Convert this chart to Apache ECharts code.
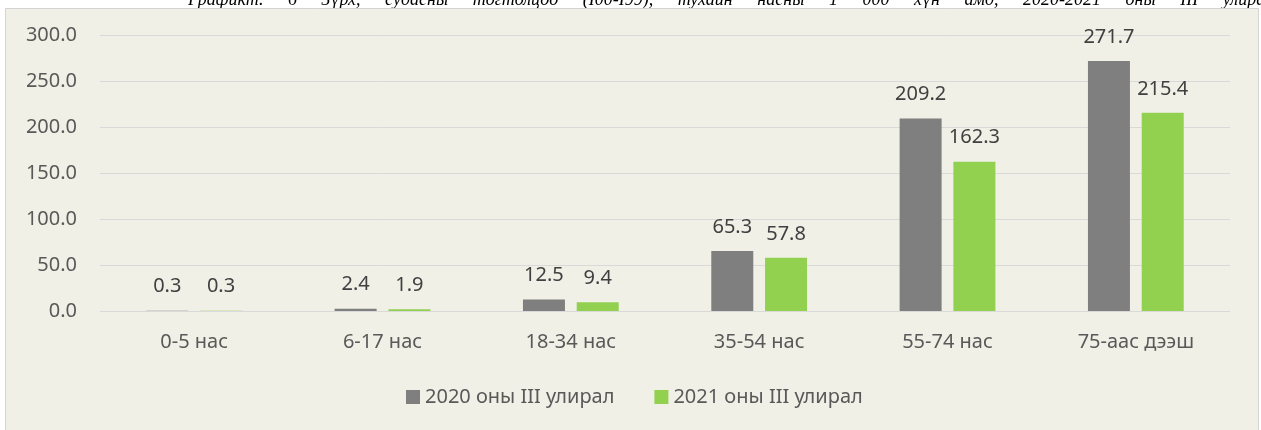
<!DOCTYPE html>
<html>
<head>
<meta charset="utf-8">
<script src="https://cdn.jsdelivr.net/npm/echarts@6/dist/echarts.min.js"></script>
<style>
  body { margin: 0; background: #ffffff; position: relative; }
  #main { width: 1261px; height: 430px; }
  #caption {
    position: absolute; left: 0; top: 0; width: 1261px; height: 8px;
    overflow: hidden; z-index: 5;
  }
  #caption span {
    position: absolute; left: 188px; top: -10px; width: 1085px; height: 18px;
    font-family: 'Liberation Serif', serif; font-style: italic; font-size: 18px;
    line-height: 18px; text-align: justify; text-align-last: justify;
    display: block; overflow: hidden; color: #000;
  }
</style>
</head>
<body>
<div id="main"></div>
<div id="caption"><span>Графикт. 6 Зүрх, судасны тогтолцоо (I00-I99), тухайн насны 1 000 хүн амд, 2020-2021 оны III улирал</span></div>
<script>
(function(){
    var categories = ['0-5 нас', '6-17 нас', '18-34 нас', '35-54 нас', '55-74 нас', '75-аас дээш'];
    var values2020 = [0.3, 2.4, 12.5, 65.3, 209.2, 271.7];
    var values2021 = [0.3, 1.9, 9.4, 57.8, 162.3, 215.4];
    var seriesNames = ['2020 оны III улирал', '2021 оны III улирал'];
    var yTicks = { min: 0, max: 300, interval: 50 };

    var myChart = echarts.init(document.getElementById('main'));

    var labelStyle = {
        show: true,
        position: 'top',
        distance: 14,
        fontFamily: 'Noto Sans',
        fontSize: 20,
        color: '#404040',
        formatter: function (p) { return p.value.toFixed(1); }
    };

    var option = {
        animation: false,
        graphic: [
            {
                type: 'rect',
                z: -10,
                shape: { x: 5.5, y: 8.5, width: 1253, height: 430 },
                style: { fill: '#f1f0e6', stroke: '#d4d4d4', lineWidth: 1 }
            }
        ],
        legend: {
            data: seriesNames,
            top: 382,
            left: 401,
            itemWidth: 14,
            itemHeight: 14,
            itemGap: 40,
            icon: 'rect',
            textStyle: { fontFamily: 'Noto Sans', fontSize: 20, color: '#595959' }
        },
        grid: { left: 100, right: 31, top: 35, bottom: 119 },
        xAxis: {
            type: 'category',
            data: categories,
            axisLine: { show: false },
            axisTick: { show: false },
            axisLabel: { margin: 21, fontFamily: 'Noto Sans', fontSize: 20, color: '#595959' }
        },
        yAxis: {
            type: 'value',
            min: yTicks.min,
            max: yTicks.max,
            interval: yTicks.interval,
            axisLine: { show: false },
            axisTick: { show: false },
            splitLine: { lineStyle: { color: '#d9d9d9', width: 1 } },
            axisLabel: {
                margin: 23,
                fontFamily: 'Noto Sans',
                fontSize: 20,
                color: '#595959',
                formatter: function (v) { return v.toFixed(1); }
            }
        },
        series: [
            {
                name: seriesNames[0],
                type: 'bar',
                data: values2020,
                barWidth: 42,
                barGap: '28%',
                itemStyle: { color: '#7f7f7f' },
                label: labelStyle
            },
            {
                name: seriesNames[1],
                type: 'bar',
                data: values2021,
                barWidth: 42,
                itemStyle: { color: '#92d050' },
                label: labelStyle
            }
        ]
    };
    myChart.setOption(option);
})();
</script>
</body>
</html>
